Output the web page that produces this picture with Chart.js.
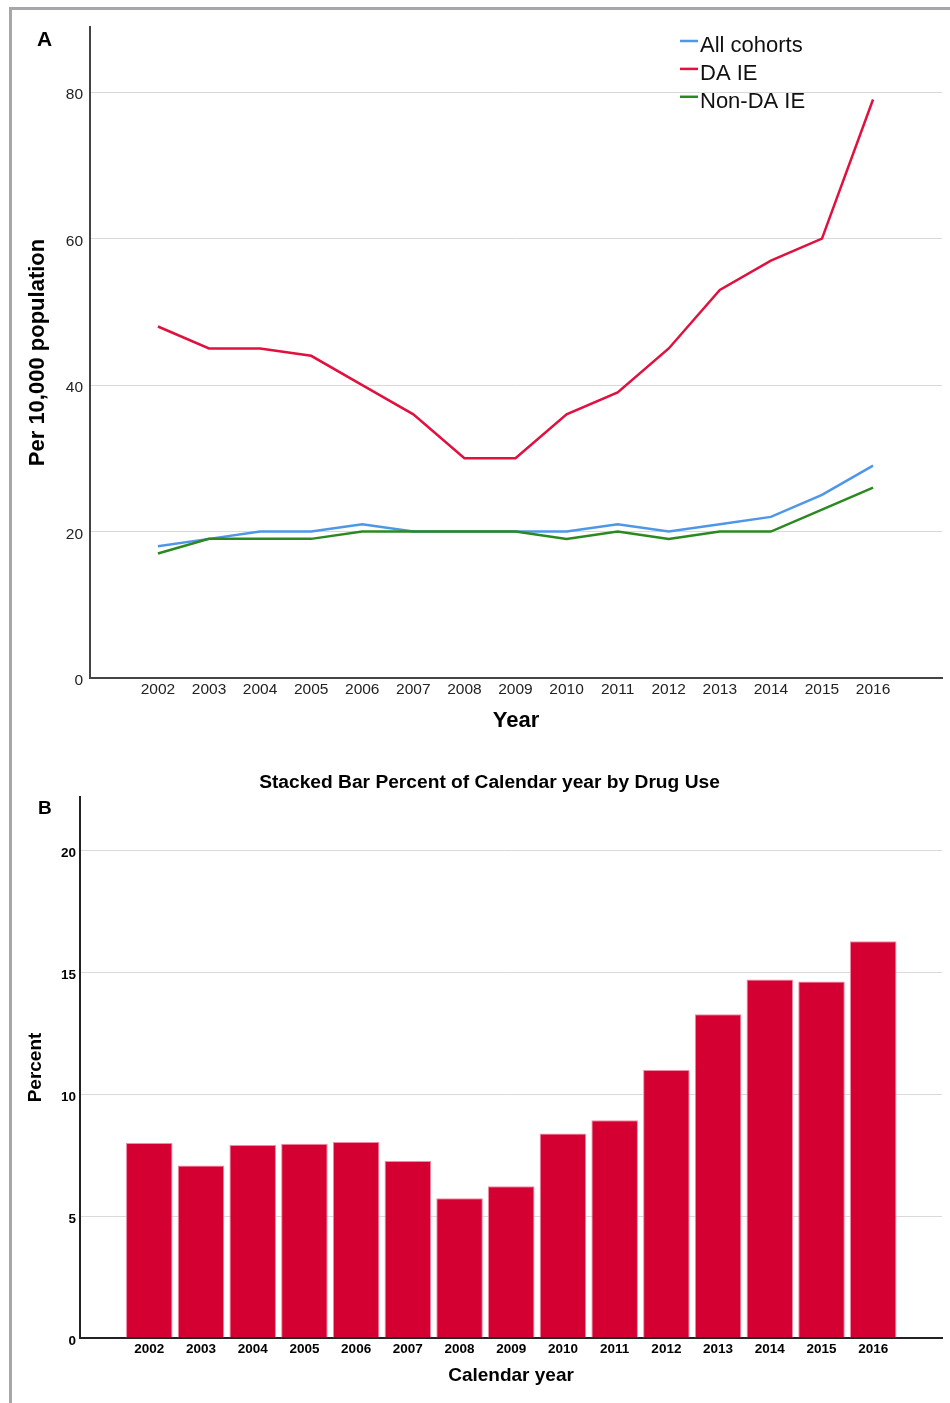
<!DOCTYPE html>
<html><head><meta charset="utf-8">
<script src="https://cdn.jsdelivr.net/npm/chart.js@4"></script>
<style>
html,body{margin:0;padding:0;background:#fff;}
body{width:950px;height:1403px;position:relative;overflow:hidden;font-family:"Liberation Sans",Arial,sans-serif;}
#frame{position:absolute;left:9px;top:7px;width:960px;height:1420px;border-top:3px solid #a7a7ab;border-left:3px solid #a7a7ab;}
.lbl{position:absolute;font-weight:bold;line-height:1;color:#000;white-space:nowrap;}
canvas{position:absolute;left:0;}
#chartA{top:0;}
#chartB{top:750px;}
</style></head>
<body>
<div id="frame"></div>
<canvas id="chartA" width="950" height="750"></canvas>
<canvas id="chartB" width="950" height="653"></canvas>
<div class="lbl" style="left:37px;top:28px;font-size:21px">A</div>
<div class="lbl" style="left:38px;top:798px;font-size:19px">B</div>
<div class="lbl" style="left:0;width:979px;text-align:center;top:772px;font-size:19.2px">Stacked Bar Percent of Calendar year by Drug Use</div>
<script>
// ---- data ----
const years = [2002,2003,2004,2005,2006,2007,2008,2009,2010,2011,2012,2013,2014,2015,2016];
const allCohorts = [18,19,20,20,21,20,20,20,20,21,20,21,22,25,29];
const daIE      = [48,45,45,44,40,36,30,30,36,39,45,53,57,60,79];
const nonDaIE   = [17,19,19,19,20,20,20,20,19,20,19,20,20,23,26];
const yTicksA = [0,20,40,60,80];
const drugUsePct = [8.0,7.08,7.92,7.97,8.04,7.26,5.73,6.23,8.39,8.94,11.0,13.29,14.71,14.63,16.28];
const yTicksB = [0,5,10,15,20];
const seriesLabels = ['All cohorts','DA IE','Non-DA IE'];

const FONT = "'Liberation Sans', Arial, sans-serif";
const pts = arr => years.map((y,i)=>({x:y, y:arr[i]}));

const lineLegend = {
  id:'lineLegend',
  afterDraw(chart){
    const ctx = chart.ctx, ca = chart.chartArea;
    ctx.save();
    ctx.font = "22px " + FONT;
    ctx.textBaseline = 'alphabetic';
    chart.data.datasets.forEach((ds,i)=>{
      const y = ca.top + 14 + i*27.9;
      ctx.strokeStyle = ds.borderColor; ctx.lineWidth = 2.5;
      ctx.beginPath(); ctx.moveTo(ca.right - 262, y); ctx.lineTo(ca.right - 244, y); ctx.stroke();
      ctx.fillStyle = '#111';
      ctx.fillText(ds.label, ca.right - 242, y + 11);
    });
    ctx.restore();
  }
};

new Chart(document.getElementById('chartA'), {
  type:'line',
  data:{datasets:[
    {label:seriesLabels[0], data:pts(allCohorts), borderColor:'#4e97e8', order:2},
    {label:seriesLabels[1], data:pts(daIE), borderColor:'#e0103f', order:1},
    {label:seriesLabels[2], data:pts(nonDaIE), borderColor:'#2a8a20', order:0}
  ]},
  options:{
    responsive:false, animation:false, devicePixelRatio:1,
    layout:{padding:{left:0,right:8,top:27,bottom:0}},
    elements:{line:{borderWidth:2.5,tension:0,borderJoinStyle:'miter',fill:false}, point:{radius:0,hoverRadius:0}},
    plugins:{legend:{display:false}, tooltip:{enabled:false}},
    scales:{
      x:{type:'linear', min:2000.67, max:2017.35, offset:false,
        afterBuildTicks:s=>{ s.ticks = years.map(v=>({value:v})); },
        afterFit:s=>{ s.height = 72; },
        grid:{display:false, drawTicks:false, offset:false},
        border:{display:true, color:'#444', width:2},
        ticks:{font:{family:FONT,size:15.5}, color:'#222', padding:2, autoSkip:false, maxRotation:0, callback:v=>String(v)},
        title:{display:true, text:'Year', color:'#000', font:{family:FONT,size:22,weight:'bold'}, padding:{top:0,bottom:16}}
      },
      y:{min:0, max:88.9,
        afterBuildTicks:s=>{ s.ticks = yTicksA.map(v=>({value:v})); },
        afterFit:s=>{ s.width = 90; },
        grid:{color:'#d9d9d9', lineWidth:1, drawTicks:false},
        border:{display:true, color:'#444', width:2},
        ticks:{font:{family:FONT,size:15.5}, color:'#222', padding:7, labelOffset:3, callback:v=>String(v)},
        title:{display:true, text:'Per 10,000 population', color:'#000', font:{family:FONT,size:22,weight:'bold'}, padding:{top:25,bottom:0}}
      }
    }
  },
  plugins:[lineLegend]
});

new Chart(document.getElementById('chartB'), {
  type:'bar',
  data:{datasets:[{label:'Drug use', data:pts(drugUsePct), backgroundColor:'#d50032', borderColor:'#f28aa5', borderWidth:1, barPercentage:0.9, categoryPercentage:1}]},
  options:{
    responsive:false, animation:false, devicePixelRatio:1,
    layout:{padding:{left:0,right:8,top:47,bottom:0}},
    plugins:{legend:{display:false}, tooltip:{enabled:false}},
    scales:{
      x:{type:'linear', min:2000.66, max:2017.33, offset:false,
        afterBuildTicks:s=>{ s.ticks = years.map(v=>({value:v})); },
        afterFit:s=>{ s.height = 65; },
        grid:{display:false, drawTicks:false, offset:false},
        border:{display:true, color:'#222', width:2},
        ticks:{font:{family:FONT,size:13.5,weight:'bold'}, color:'#000', padding:3, autoSkip:false, maxRotation:0, callback:v=>String(v)},
        title:{display:true, text:'Calendar year', color:'#000', font:{family:FONT,size:19,weight:'bold'}, padding:{top:0,bottom:16}}
      },
      y:{min:0, max:22.2,
        afterBuildTicks:s=>{ s.ticks = yTicksB.map(v=>({value:v})); },
        afterFit:s=>{ s.width = 80; },
        grid:{color:'#dadada', lineWidth:1, drawTicks:false},
        border:{display:true, color:'#222', width:2},
        ticks:{font:{family:FONT,size:13.5,weight:'bold'}, color:'#000', padding:4, labelOffset:3, callback:v=>String(v)},
        title:{display:true, text:'Percent', color:'#000', font:{family:FONT,size:19,weight:'bold'}, padding:{top:24.6,bottom:0}}
      }
    }
  }
});
</script>
</body></html>
